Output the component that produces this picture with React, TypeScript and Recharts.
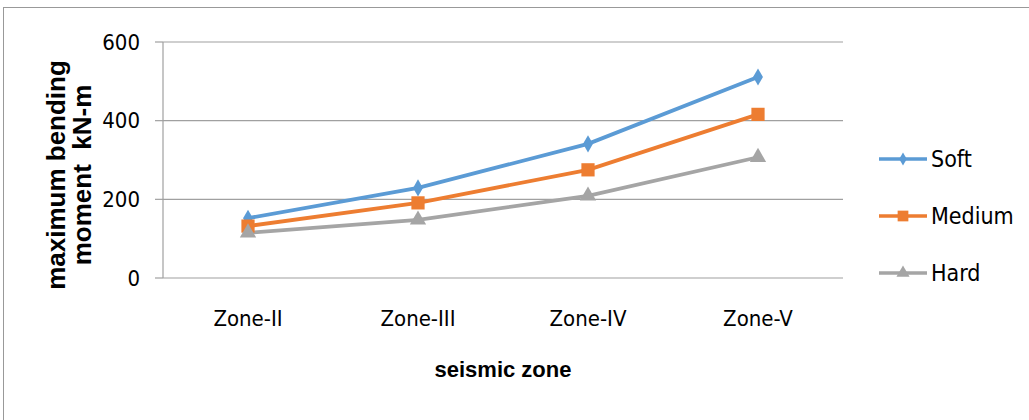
import React from "react";
import { LineChart, Line, XAxis, YAxis, CartesianGrid, Symbols } from "recharts";

const zones = ["Zone-II", "Zone-III", "Zone-IV", "Zone-V"];
const soft = [152, 229, 341, 511];
const medium = [132, 191, 275, 416];
const hard = [115, 148, 209, 307];
const yTicks = [0, 200, 400, 600];
const edgeTicks = [-0.5, 0.5, 1.5, 2.5, 3.5];

const tickFont = "'DejaVu Sans Condensed', 'Open Sans', sans-serif";
const boldFont = "'Liberation Sans', Arial, sans-serif";

const series = [
  { key: "Soft", color: "#5B9BD5", shape: "diamond", size: 85, legendSize: 50 },
  { key: "Medium", color: "#ED7D31", shape: "square", size: 175, legendSize: 115 },
  { key: "Hard", color: "#A5A5A5", shape: "triangle", size: 115, legendSize: 75 },
];

const data = zones.map((zone, i) => ({
  zone,
  idx: i,
  Soft: soft[i],
  Medium: medium[i],
  Hard: hard[i],
}));

// marker drawn at each point
function makeDot(shape: any, size: number, color: string) {
  return (props: any) => {
    const { cx, cy, index } = props;
    if (cx == null || cy == null) return null;
    return <Symbols key={index} cx={cx} cy={cy} type={shape} size={size} fill={color} stroke="none" />;
  };
}

function YTitle(props: any) {
  const { viewBox } = props;
  const cx = 65;
  const cy = viewBox.y + viewBox.height / 2 + 15;
  return (
    <text
      transform={`rotate(-90, ${cx}, ${cy})`}
      x={cx}
      y={cy}
      textAnchor="middle"
      fontFamily={boldFont}
      fontWeight="bold"
      fontSize={26}
      fill="#000"
      style={{ whiteSpace: "pre" }}
    >
      <tspan x={cx} dy={0}>maximum bending</tspan>
      <tspan x={cx} dy={26}>moment  kN-m</tspan>
    </text>
  );
}

function XTitle(props: any) {
  const { viewBox } = props;
  return (
    <text
      x={viewBox.x + viewBox.width / 2}
      y={viewBox.y + 99}
      textAnchor="middle"
      fontFamily={boldFont}
      fontWeight="bold"
      fontSize={22}
      fill="#000"
    >
      seismic zone
    </text>
  );
}

function LegendBox() {
  return (
    <div style={{ position: "absolute", left: 877, top: 130 }}>
      {series.map((s) => (
        <div key={s.key} style={{ display: "flex", alignItems: "center", height: 57 }}>
          <svg width={52} height={20}>
            <line x1={2} y1={10} x2={50} y2={10} stroke={s.color} strokeWidth={3.5} />
            <Symbols cx={26} cy={10} type={s.shape as any} size={s.legendSize} fill={s.color} />
          </svg>
          <span style={{ fontFamily: tickFont, fontSize: 23, color: "#000", marginLeft: 2 }}>{s.key}</span>
        </div>
      ))}
    </div>
  );
}

export default function App() {
  return (
    <div style={{ position: "fixed", left: 0, top: 0, width: 1029, height: 420, overflow: "hidden", background: "#fff" }}>
      <div
        style={{
          position: "absolute",
          left: 3,
          top: 7,
          width: 1060,
          height: 450,
          border: "1px solid #999",
        }}
      />
      <div style={{ position: "absolute", left: 0, top: 0 }}>
        <LineChart width={1029} height={420} data={data} margin={{ top: 42, right: 186, bottom: 82, left: 0 }}>
          <CartesianGrid xAxisId="cat" vertical={false} stroke="#a0a0a0" strokeWidth={1.2} />
          <XAxis
            xAxisId="edges"
            type="number"
            dataKey="idx"
            domain={[-0.5, 3.5]}
            ticks={edgeTicks}
            height={0}
            tickSize={9}
            tickFormatter={() => ""}
            axisLine={{ stroke: "#a0a0a0", strokeWidth: 1.2 }}
            tickLine={{ stroke: "#a0a0a0", strokeWidth: 1.2 }}
            allowDataOverflow
          />
          <XAxis
            xAxisId="cat"
            dataKey="zone"
            scale="band"
            height={60}
            axisLine={false}
            tickLine={false}
            tickMargin={26}
            tick={{ fontFamily: tickFont, fontSize: 22, fill: "#000" }}
            label={<XTitle />}
          />
          <YAxis
            width={163}
            domain={[0, 600]}
            ticks={yTicks}
            tickSize={8}
            tickMargin={15}
            axisLine={{ stroke: "#a0a0a0", strokeWidth: 1.2 }}
            tickLine={{ stroke: "#a0a0a0", strokeWidth: 1.2 }}
            tick={{ fontFamily: tickFont, fontSize: 22, fill: "#000" }}
            label={<YTitle />}
          />
          {series.map((s) => (
            <Line
              key={s.key}
              xAxisId="cat"
              type="linear"
              dataKey={s.key}
              stroke={s.color}
              strokeWidth={3.8}
              dot={makeDot(s.shape, s.size, s.color)}
              activeDot={false}
              isAnimationActive={false}
            />
          ))}
        </LineChart>
      </div>
      <LegendBox />
    </div>
  );
}
